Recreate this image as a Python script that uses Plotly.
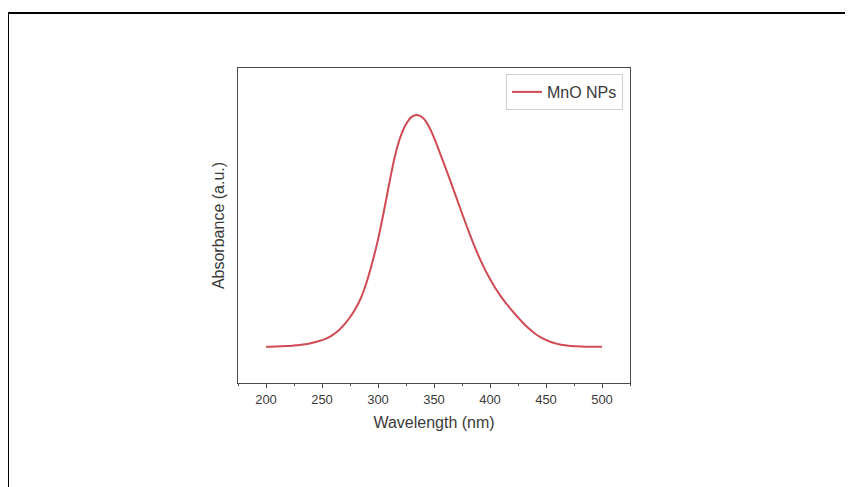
import plotly.graph_objects as go

wavelength = [200, 205, 210, 215, 220, 225, 230, 235, 240, 245, 250, 255, 260, 265,
              270, 275, 280, 285, 290, 295, 300, 305, 310, 315, 320, 325, 330, 335,
              340, 345, 350, 355, 360, 365, 370, 375, 380, 385, 390, 395, 400, 405,
              410, 415, 420, 425, 430, 435, 440, 445, 450, 455, 460, 465, 470, 475,
              480, 485, 490, 495, 500]
absorbance = [0.000, 0.000, 0.001, 0.002, 0.003, 0.005, 0.007, 0.010, 0.015, 0.021,
              0.028, 0.038, 0.052, 0.071, 0.096, 0.127, 0.165, 0.213, 0.280, 0.365,
              0.462, 0.578, 0.703, 0.820, 0.905, 0.960, 0.992, 1.000, 0.988, 0.955,
              0.902, 0.840, 0.776, 0.710, 0.643, 0.576, 0.510, 0.447, 0.390, 0.338,
              0.292, 0.251, 0.215, 0.183, 0.154, 0.126, 0.100, 0.077, 0.057, 0.041,
              0.029, 0.019, 0.012, 0.007, 0.004, 0.002, 0.001, 0.000, 0.000, 0.000,
              0.000]
series_name = "MnO NPs"
x_ticks = [200, 250, 300, 350, 400, 450, 500]

FONT = "Liberation Sans, Arial, sans-serif"
TXT = "#3a3a3a"

fig = go.Figure()
fig.add_trace(go.Scatter(
    x=wavelength, y=absorbance, mode="lines", name=series_name,
    line=dict(color="#d14a53", width=2, shape="spline", smoothing=1.0),
))

# page body has an 8px margin, so the figure sits 8px right/down in the window
OFF = 8
L, T = 238 - OFF, 68 - OFF
R = 853 - (630 - OFF)
B = 487 - (383 - OFF)
fig.update_layout(
    width=853, height=487,
    margin=dict(l=L, r=R, t=T, b=B),
    paper_bgcolor="white", plot_bgcolor="white",
    font=dict(family=FONT, color=TXT, size=13),
    showlegend=True,
    legend=dict(x=0.982, y=0.981, xanchor="right", yanchor="top",
                bordercolor="#cfcfcf", borderwidth=1, bgcolor="white",
                font=dict(size=16, color=TXT), tracegroupgap=0,
                itemwidth=30),
    xaxis=dict(
        range=[175, 525], tickmode="array", tickvals=x_ticks,
        ticktext=[str(v) for v in x_ticks],
        showline=True, linecolor="#4a4a4a", linewidth=1.3, mirror=True,
        ticks="outside", ticklen=4, tickwidth=1.2, tickcolor="#4a4a4a",
        minor=dict(ticks="outside", ticklen=2, tickwidth=1, tickcolor="#4a4a4a",
                   dtick=25, tick0=175, showgrid=False),
        showgrid=False, zeroline=False,
        tickfont=dict(size=13, color=TXT),
        title=dict(text="Wavelength (nm)", font=dict(size=16, color=TXT), standoff=11),
    ),
    yaxis=dict(
        range=[-0.157, 1.203],
        showline=True, linecolor="#4a4a4a", linewidth=1.3, mirror=True,
        ticks="", showticklabels=False, showgrid=False, zeroline=False,
        title=dict(text="Absorbance (a.u.)", font=dict(size=16, color=TXT), standoff=8),
    ),
)

# outer frame of the figure image
pw, ph = 853 - L - R, 487 - T - B
fig.add_shape(type="rect", xref="paper", yref="paper",
              x0=(8 - OFF - L) / pw, x1=(880 - L) / pw,
              y0=(487 - B - 520) / ph, y1=(487 - B - (13 - OFF)) / ph,
              line=dict(color="black", width=2), fillcolor="rgba(0,0,0,0)",
              layer="above")

fig.write_html("out.html")
